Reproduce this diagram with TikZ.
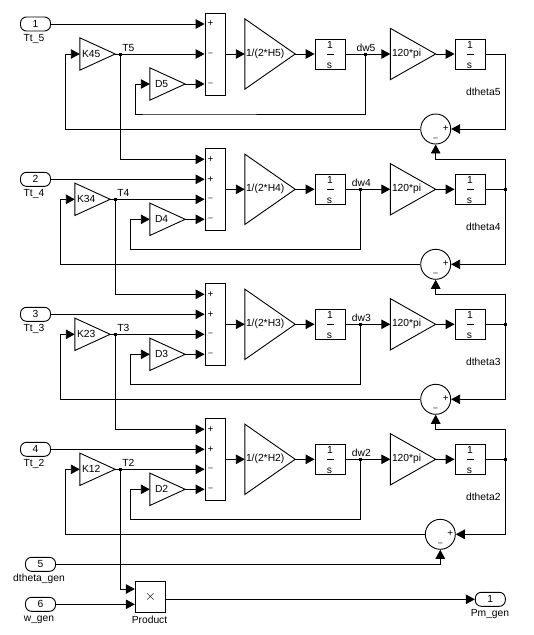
\documentclass[tikz,border=0pt]{standalone}
\usepackage{fontspec}
\setmainfont{Liberation Sans}
\usetikzlibrary{arrows.meta,calc}
\newcommand\gainshape[1]{\draw[blockline] (#1.north west) -- (#1.east) -- (#1.south west) -- cycle;}
\tikzset{
  blockline/.style={draw=black,line width=0.9pt,line join=miter},
  wire/.style={draw=black,line width=0.9pt,-{Triangle[length=9pt,width=9.5pt]}},
  plainwire/.style={draw=black,line width=0.9pt},
  txt/.style={inner sep=0pt,font=\fontsize{10.3}{12}\selectfont},
  gainbox/.style 2 args={rectangle,inner sep=0pt,text width=#1,minimum height=#2,align=left,font=\fontsize{10.3}{12}\selectfont},
  sumbox/.style={rectangle,blockline,inner sep=0pt,minimum width=20.5pt,minimum height=82pt},
  intbox/.style={rectangle,blockline,inner sep=0pt,minimum width=30.5pt,minimum height=30pt},
  circsum/.style={circle,blockline,inner sep=0pt,minimum size=30pt},
  port/.style={rectangle,blockline,rounded corners=6pt,inner sep=0pt,minimum width=30pt,minimum height=14pt,font=\fontsize{10.3}{12}\selectfont},
  dot/.style={rectangle,fill=black,inner sep=0pt,minimum size=3pt},
  sign/.style={inner sep=0pt,font=\fontsize{10}{12}\selectfont},
}
\begin{document}
\begin{tikzpicture}[x=1pt,y=-1pt]
\useasboundingbox (0,0) rectangle (534,635);
\foreach \s/\c/\ky/\py/\kx/\kn/\jx/\dx/\dfx/\kfx/\cx/\pn in {
  5/54/54/24/97.5/K45/120.3/365/135.5/65.7/435.7/1,
  4/189.3/199.3/179.3/92.5/K34/115.3/360.3/130.3/60.3/435.7/2,
  3/324.3/334.3/314.3/92.5/K23/115.3/360.3/130.3/60.3/435.7/3,
  2/459.3/469.3/449.3/97.5/K12/120.3/360.3/130.3/65.7/440.3/4}{
  % input port
  \node[port] (P\s) at (35.5,\py) {\pn};
  \pgfmathsetmacro\ly{\py+15}
  \node[txt] (Pl\s) at (34,\ly) {Tt\_\s};
  % sum block
  \node[sumbox] (S\s) at (215.3,\c) {};
  % gains
  \node[gainbox={35pt}{32pt}] (K\s) at (\kx,\ky) {\hspace*{2pt}\kn};
  \gainshape{K\s}
  \pgfmathsetmacro\dy{\c+30}
  \node[gainbox={35pt}{32pt}] (D\s) at (167.5,\dy) {\hspace*{5pt}D\s};
  \gainshape{D\s}
  \node[gainbox={50pt}{70pt}] (H\s) at (270,\c) {\hspace*{1pt}1/(2*H\s)};
  \gainshape{H\s}
  \node[gainbox={45pt}{51pt}] (W\s) at (413,\c) {\hspace*{1.5pt}120*pi};
  \gainshape{W\s}
  % integrators
  \foreach \iname/\ix in {A/330.3,B/470.3}{
    \node[intbox] (\iname\s) at (\ix,\c) {};
    \node[txt] (\iname n\s) at ($(\iname\s.center)+(-0.3,-9)$) {1};
    \node[txt] (\iname d\s) at ($(\iname\s.center)+(-0.8,11.5)$) {s};
    \draw[plainwire] ($(\iname\s.center)+(-3.5,0)$) -- ($(\iname\s.center)+(3.5,0)$);
  }
  % junctions and rail
  \node[dot] (JT\s) at (\jx,\ky) {};
  \node[dot] (JW\s) at (\dx,\c) {};
  \coordinate (R\s) at (505.7,\c);
  \node[circsum] (C\s) at (\cx,\c+75) {};
  \node[sign] (Cp\s) at ($(C\s.center)+(10,-0.5)$) {+};
  \node[sign] (Cm\s) at ($(C\s.center)+(0,10)$) {\fontsize{8}{10}\selectfont --};
  % text labels
  \node[txt] (Tl\s) at ($(JT\s)+(8,-6)$) {T\s};
  \node[txt] (Wl\s) at ($(JW\s)+(1,-6)$) {dw\s};
  \node[txt] (Thl\s) at (483.3,\c+37.5) {dtheta\s};
  % connectors
  \draw[wire] (P\s.east) -- (S\s.west |- P\s.east);
  \draw[wire] (K\s.east) -- (S\s.west |- K\s.east);
  \draw[wire] (D\s.east) -- (S\s.west |- D\s.east);
  \draw[wire] (S\s.east |- H\s.west) -- (H\s.west);
  \draw[wire] (H\s.east) -- (A\s.west);
  \draw[wire] (A\s.east) -- (W\s.west);
  \draw[wire] (W\s.east) -- (B\s.west);
  \draw[plainwire] (B\s.east) -- (R\s);
  \draw[wire] (JW\s) |- ($(D\s.west)+(0,30)$) -| (\dfx,\dy) -- (D\s.west);
  \draw[wire] (R\s) |- (C\s.east);
  \draw[wire] (C\s.west) -| (\kfx,\ky) -- (K\s.west);
}
% signs on the sum blocks
\node[sign] (s5a) at (210.5,24) {+};
\node[sign] (s5b) at (210.5,54) {\fontsize{8}{10}\selectfont --};
\node[sign] (s5c) at (210.5,84) {\fontsize{8}{10}\selectfont --};
\foreach \s/\c in {4/189.3,3/324.3,2/459.3}{
  \node[sign] (s\s a) at (210.5,\c-30) {+};
  \node[sign] (s\s b) at (210.5,\c-10) {+};
  \node[sign] (s\s c) at (210.5,\c+10) {\fontsize{8}{10}\selectfont --};
  \node[sign] (s\s d) at (210.5,\c+30) {\fontsize{8}{10}\selectfont --};
}
% links between the sections
\foreach \up/\lo/\yy in {5/4/159.3,4/3/294.3,3/2/429.3}{
  \draw[wire] (JT\up) |- (S\lo.west |- 0,\yy);
  \node[dot] (JR\lo) at (R\lo) {};
  \draw[wire] (JR\lo) |- (C\up.south |- 0,\yy) -- (C\up.south);
}
% generator inputs
\node[port] (P5g) at (40.5,564.3) {5};
\node[txt] (P5l) at (39,579.3) {dtheta\_gen};
\node[port] (P6g) at (40.5,604.3) {6};
\node[txt] (P6l) at (39,619.5) {w\_gen};
\node[rectangle,blockline,inner sep=0pt,minimum width=30.4pt,minimum height=31pt,font=\Large] (M) at (150.5,596.8) {$\times$};
\node[txt] (Ml) at (149.5,620) {Product};
\node[port] (Out) at (490.3,599.3) {1};
\node[txt] (Outl) at (490,614) {Pm\_gen};
\draw[wire] (P5g.east) -- (C2.south |- P5g.east) -- (C2.south);
\draw[wire] (JT2) |- (M.west |- 0,589);
\draw[wire] (P6g.east) -- (M.west |- P6g.east);
\draw[wire] (M.east |- Out.west) -- (Out.west);
\end{tikzpicture}
\end{document}
